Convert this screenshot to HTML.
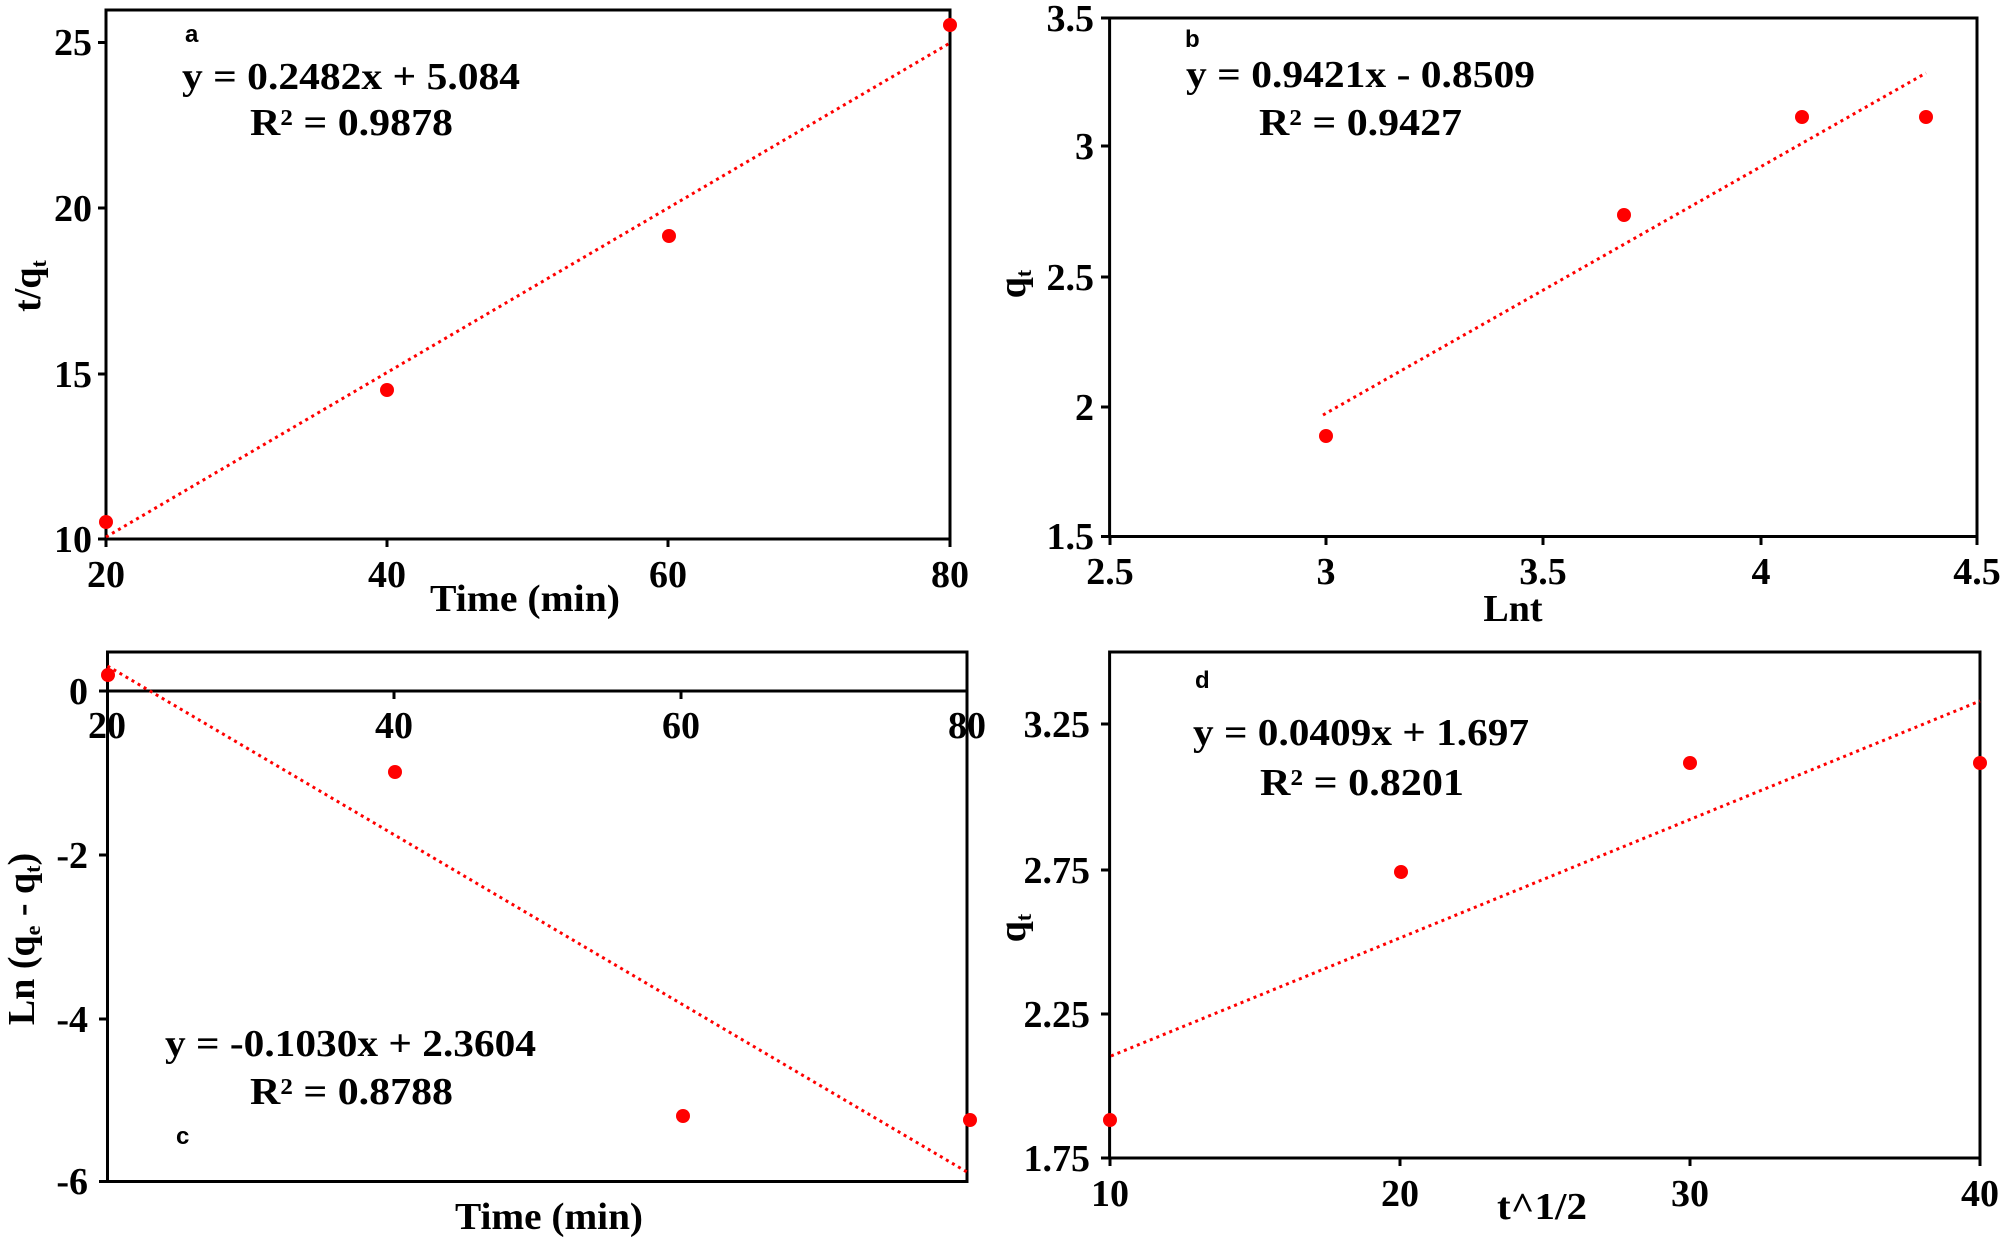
<!DOCTYPE html>
<html><head><meta charset="utf-8"><style>html,body{margin:0;padding:0;background:#fff;}svg{display:block}
svg text{font-family:"Liberation Serif","Times New Roman",serif;font-weight:bold;}
svg text.s{font-family:"Liberation Sans",Arial,sans-serif;}
</style></head>
<body>
<svg width="2008" height="1244" viewBox="0 0 2008 1244" xmlns="http://www.w3.org/2000/svg" fill="#000">
<g stroke="#000" stroke-width="3" fill="none">
<rect x="106" y="10" width="844" height="529"/>
<path d="M98 42.5H106M98 208H106M98 374H106M98 539H106M106 539V547M387 539V547M668 539V547M950 539V547"/>
<rect x="1109.6" y="18" width="867.4" height="518.5"/>
<path d="M1101 18H1110M1101 146H1110M1101 277H1110M1101 407H1110M1101 536.5H1110M1110 536.5V545M1326 536.5V545M1543 536.5V545M1761 536.5V545M1977 536.5V545"/>
<rect x="107.5" y="652" width="859.5" height="529.5"/>
<path d="M107.5 691H967M99 691H107.5M99 855H107.5M99 1019H107.5M99 1181.5H107.5M107.5 691V699M394 691V699M681 691V699M967 691V699"/>
<rect x="1109.6" y="652" width="870.4" height="506"/>
<path d="M1101 724H1110M1101 870H1110M1101 1014H1110M1101 1158H1110M1110 1158V1166M1400 1158V1166M1690 1158V1166M1980 1158V1166"/>
</g>
<g stroke="#f00" stroke-width="3" stroke-dasharray="3 4" fill="none">
<line x1="106" y1="537" x2="950" y2="43"/>
<line x1="1323" y1="415" x2="1926" y2="73"/>
<line x1="107.5" y1="666" x2="967" y2="1172"/>
<line x1="1111" y1="1056" x2="1980" y2="701"/>
</g>
<g fill="#f00">
<circle cx="106" cy="522" r="7"/><circle cx="387" cy="390" r="7"/><circle cx="669" cy="236" r="7"/><circle cx="950" cy="25" r="7"/>
<circle cx="1326" cy="436" r="7"/><circle cx="1624" cy="215" r="7"/><circle cx="1802" cy="117" r="7"/><circle cx="1926" cy="117" r="7"/>
<circle cx="108" cy="675" r="7"/><circle cx="395" cy="772" r="7"/><circle cx="683" cy="1116" r="7"/><circle cx="970" cy="1120" r="7"/>
<circle cx="1110" cy="1120" r="7"/><circle cx="1401" cy="872" r="7"/><circle cx="1690" cy="763" r="7"/><circle cx="1980" cy="763" r="7"/>
</g>
<g font-size="38">
<g text-anchor="end"><text x="92" y="55">25</text><text x="92" y="221">20</text><text x="92" y="387">15</text><text x="92" y="552">10</text></g>
<g text-anchor="middle"><text x="106" y="587">20</text><text x="387" y="587">40</text><text x="668" y="587">60</text><text x="950" y="587">80</text></g>
<g text-anchor="end"><text x="1094" y="31">3.5</text><text x="1094" y="159">3</text><text x="1094" y="290">2.5</text><text x="1094" y="420">2</text><text x="1094" y="549">1.5</text></g>
<g text-anchor="middle"><text x="1110" y="584">2.5</text><text x="1326" y="584">3</text><text x="1543" y="584">3.5</text><text x="1761" y="584">4</text><text x="1977" y="584">4.5</text></g>
<g text-anchor="end"><text x="88" y="704">0</text><text x="88" y="868">-2</text><text x="88" y="1032">-4</text><text x="88" y="1194">-6</text></g>
<g text-anchor="middle"><text x="107" y="738">20</text><text x="394" y="738">40</text><text x="681" y="738">60</text><text x="967" y="738">80</text></g>
<g text-anchor="end"><text x="1090" y="737">3.25</text><text x="1090" y="883">2.75</text><text x="1090" y="1027">2.25</text><text x="1090" y="1171">1.75</text></g>
<g text-anchor="middle"><text x="1110" y="1206">10</text><text x="1400" y="1206">20</text><text x="1690" y="1206">30</text><text x="1980" y="1206">40</text></g>
<text x="182" y="89" textLength="338" lengthAdjust="spacingAndGlyphs">y = 0.2482x + 5.084</text>
<text x="250" y="135" textLength="203" lengthAdjust="spacingAndGlyphs">R² = 0.9878</text>
<text x="1186" y="87" textLength="349" lengthAdjust="spacingAndGlyphs">y = 0.9421x - 0.8509</text>
<text x="1259" y="135" textLength="203" lengthAdjust="spacingAndGlyphs">R² = 0.9427</text>
<text x="165" y="1056" textLength="371" lengthAdjust="spacingAndGlyphs">y = -0.1030x + 2.3604</text>
<text x="250" y="1104" textLength="203" lengthAdjust="spacingAndGlyphs">R² = 0.8788</text>
<text x="1193" y="745" textLength="336" lengthAdjust="spacingAndGlyphs">y = 0.0409x + 1.697</text>
<text x="1260" y="795" textLength="204" lengthAdjust="spacingAndGlyphs">R² = 0.8201</text>
</g>
<g font-size="38">
<text x="430" y="611" textLength="190" lengthAdjust="spacingAndGlyphs">Time (min)</text>
<text x="1513" y="621" text-anchor="middle">Lnt</text>
<text x="455" y="1229" textLength="188" lengthAdjust="spacingAndGlyphs">Time (min)</text>
<text x="1497" y="1219" textLength="90" lengthAdjust="spacingAndGlyphs">t^1/2</text>
<text transform="translate(40,286) rotate(-90)" text-anchor="middle">t/q<tspan font-size="22" dy="6">t</tspan></text>
<text transform="translate(1025,284) rotate(-90)" text-anchor="middle">q<tspan font-size="22" dy="6">t</tspan></text>
<text transform="translate(1025,928) rotate(-90)" text-anchor="middle">q<tspan font-size="22" dy="6">t</tspan></text>
<text transform="translate(34,939) rotate(-90)" text-anchor="middle">Ln (q<tspan font-size="22" dy="6">e</tspan><tspan dy="-6"> - q</tspan><tspan font-size="22" dy="6">t</tspan><tspan dy="-6">)</tspan></text>
</g>
<g font-size="24">
<text class="s" x="185" y="42">a</text><text class="s" x="1185" y="47">b</text><text class="s" x="176" y="1144">c</text><text class="s" x="1195" y="688">d</text>
</g>
</svg>
</body></html>
